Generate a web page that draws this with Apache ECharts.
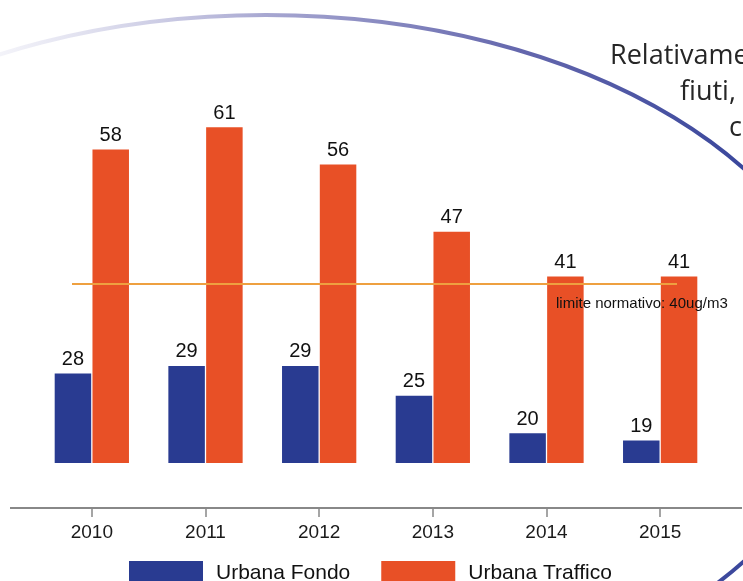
<!DOCTYPE html>
<html>
<head>
<meta charset="utf-8">
<script src="https://cdn.jsdelivr.net/npm/echarts@6/dist/echarts.min.js"></script>
<style>
html, body { margin: 0; padding: 0; background: #fff; }
#chart { width: 743px; height: 581px; }
</style>
</head>
<body>
<div id="chart"></div>
<script>
var years = ['2010', '2011', '2012', '2013', '2014', '2015'];
var urbanaFondo = [28, 29, 29, 25, 20, 19];
var urbanaTraffico = [58, 61, 56, 47, 41, 41];
var limite = 40;
var slideLines = ['Relativame', 'fiuti,', 'c'];

var FONT = 'Liberation Sans, Arial, sans-serif';

var chart = echarts.init(document.getElementById('chart'));

var option = {
    animation: false,
    backgroundColor: '#fff',
    grid: { left: 35, right: 26, top: 60, height: 403 },
    legend: {
        left: 129, top: 561, padding: 0,
        icon: 'rect', itemWidth: 74, itemHeight: 24, itemGap: 31,
        textStyle: { fontFamily: FONT, fontSize: 21, color: '#111', padding: [0, 0, 0, 8] },
        data: ['Urbana Fondo', 'Urbana Traffico']
    },
    xAxis: {
        type: 'category',
        data: years,
        offset: 45,
        axisLine: { show: false },
        axisTick: { show: true, alignWithLabel: true, length: 9, lineStyle: { color: '#888', width: 1.5 } },
        axisLabel: { margin: 15, fontFamily: FONT, fontSize: 19, color: '#1a1a1a' }
    },
    yAxis: {
        type: 'value', min: 16, max: 70, show: false,
        splitLine: { show: false }
    },
    series: [
        {
            name: 'Urbana Fondo',
            type: 'bar',
            data: urbanaFondo,
            barWidth: 36.5,
            barGap: '3.5%',
            itemStyle: { color: '#293b91' },
            label: { show: true, position: 'top', distance: 4, fontFamily: FONT, fontSize: 20, color: '#111' }
        },
        {
            name: 'Urbana Traffico',
            type: 'bar',
            data: urbanaTraffico,
            barWidth: 36.5,
            itemStyle: { color: '#e85026' },
            label: { show: true, position: 'top', distance: 4, fontFamily: FONT, fontSize: 20, color: '#111' },
            markLine: {
                silent: true,
                symbol: 'none',
                z: 5,
                label: { show: false },
                lineStyle: { color: '#eea040', width: 2, type: 'solid' },
                data: [[{ x: 72, yAxis: limite }, { x: 677, yAxis: limite }]]
            }
        }
    ],
    graphic: [
        {
            type: 'ellipse', z: -1, silent: true,
            shape: { cx: 266, cy: 365, rx: 577, ry: 350 },
            style: {
                fill: 'none', lineWidth: 4,
                stroke: {
                    type: 'linear', x: 0, y: 0, x2: 743, y2: 0, global: true,
                    colorStops: [
                        { offset: 0, color: 'rgba(235,235,245,0.6)' },
                        { offset: 0.35, color: '#a9a9d2' },
                        { offset: 0.7, color: '#6467ad' },
                        { offset: 1, color: '#3a479c' }
                    ]
                }
            }
        },
        {
            type: 'line', silent: true,
            shape: { x1: 10, y1: 508, x2: 742, y2: 508 },
            style: { stroke: '#888', lineWidth: 2 }
        },
        {
            type: 'text', left: 556, top: 296, z: 20, silent: true,
            style: { text: 'limite normativo: ' + limite + 'ug/m3', font: '15px ' + FONT, fill: '#111' }
        },
        {
            type: 'text', left: 610, top: 43, silent: true,
            style: { text: slideLines[0], font: '27px Open Sans', fill: '#262626' }
        },
        {
            type: 'text', left: 680, top: 79, silent: true,
            style: { text: slideLines[1], font: '27px Open Sans', fill: '#262626' }
        },
        {
            type: 'text', left: 729, top: 115, silent: true,
            style: { text: slideLines[2], font: '27px Open Sans', fill: '#262626' }
        }
    ]
};

chart.setOption(option);
</script>
</body>
</html>
